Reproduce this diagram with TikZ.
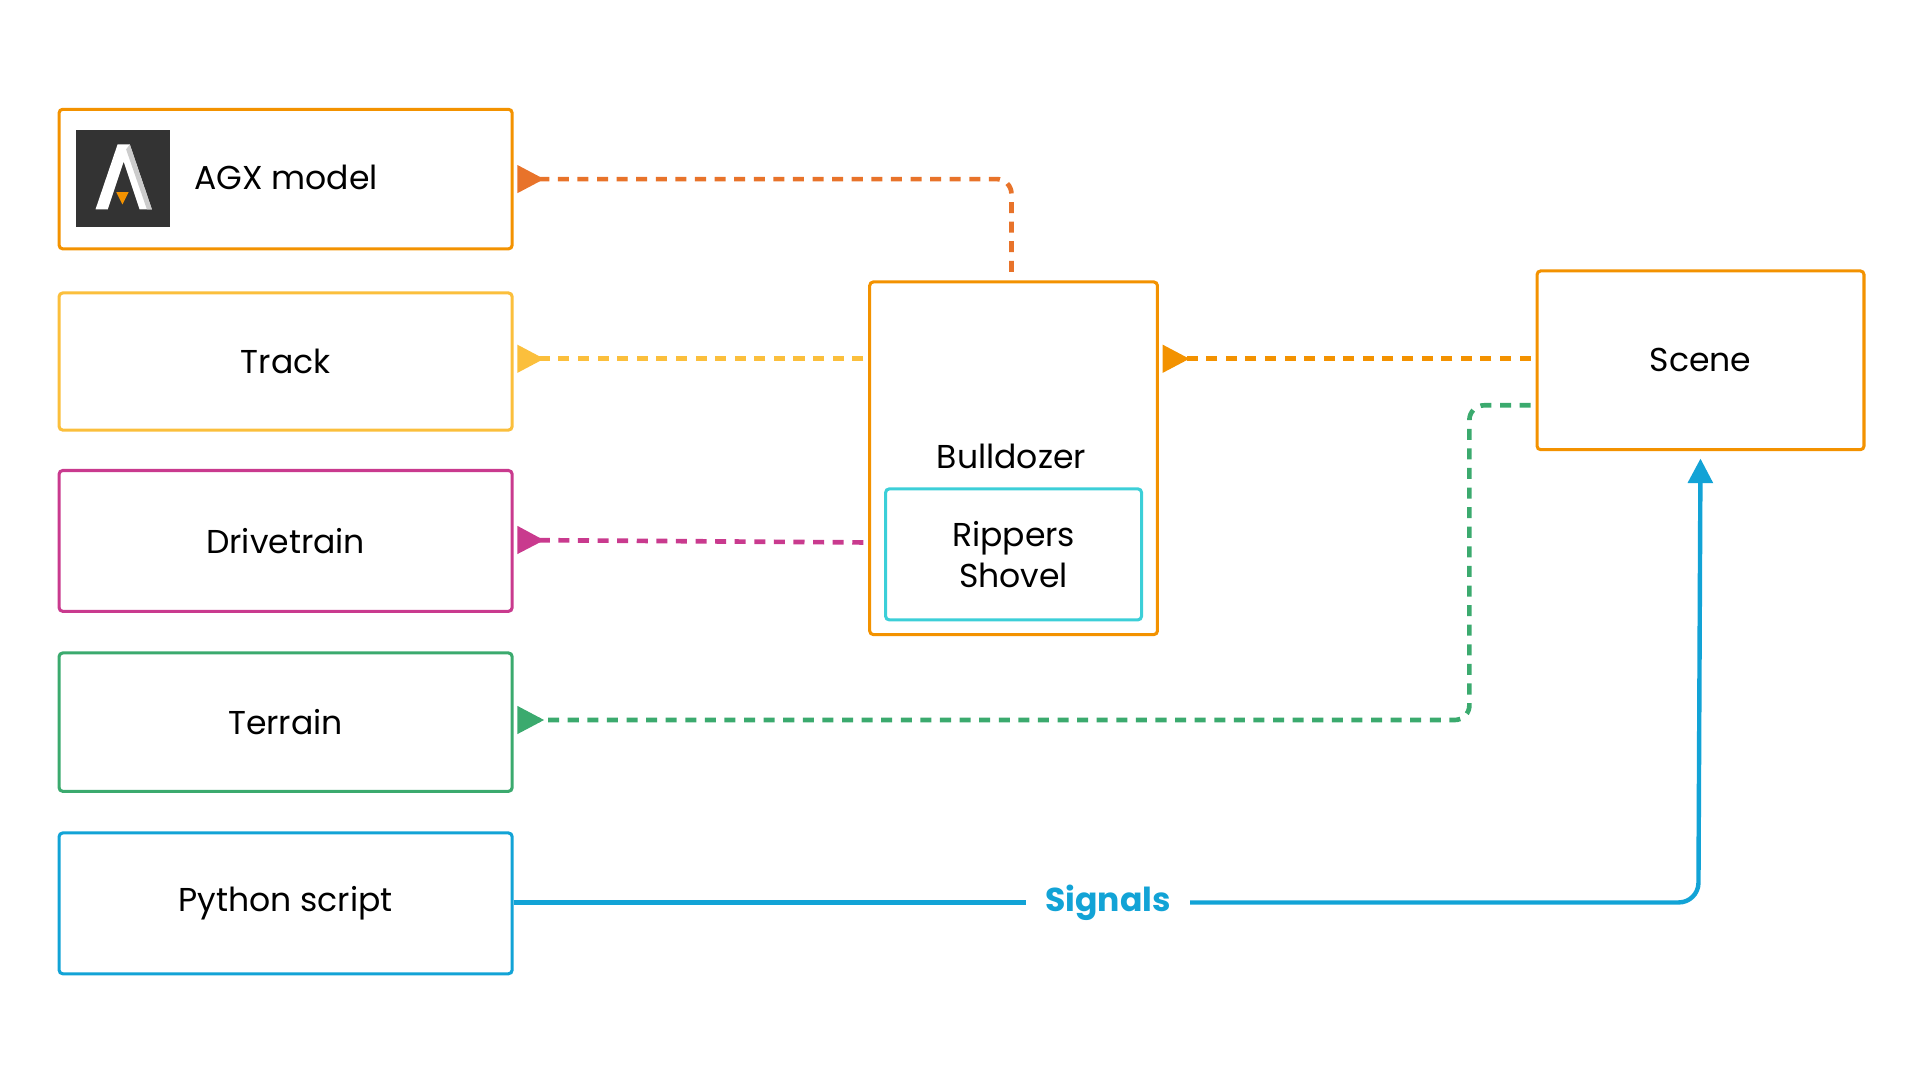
\documentclass[tikz,border=0pt]{standalone}
\usepackage{fontspec}
\setmainfont{Poppins}
\usetikzlibrary{arrows.meta}
\definecolor{org}{HTML}{F39200}
\definecolor{org2}{HTML}{E8732A}
\definecolor{yel}{HTML}{FBBF3C}
\definecolor{mag}{HTML}{C93A8E}
\definecolor{grn}{HTML}{3BAA6E}
\definecolor{blu}{HTML}{12A3D6}
\definecolor{cya}{HTML}{3CCFD8}
\begin{document}
\begin{tikzpicture}[x=1pt,y=-1pt,
 box/.style={draw,line width=2.5pt,rounded corners=3pt,minimum width=370pt,minimum height=114pt,font=\fontsize{27}{32}\selectfont,anchor=north west,inner sep=0pt},
 con/.style={line width=3.8pt,dash pattern=on 9pt off 7pt,rounded corners=12pt,-{Triangle[reversed,length=22pt,width=22pt,sep=3pt]}},
 lab/.style={font=\fontsize{27}{32}\selectfont}]
\path[use as bounding box] (0,0) rectangle (1568,882);
\node[box,draw=org] (agx) at (47,88) {};
\node[anchor=west,lab] (agxt) at (155,145) {AGX model};
\node[fill={rgb,255:red,51;green,51;blue,51},minimum width=77pt,minimum height=79pt,anchor=north west,inner sep=0pt] (logo) at (62,106) {};
\fill[white] (78,171)--(96,118)--(106,118)--(124,171)--(114,171)--(101,132)--(88,171)--cycle;
\fill[gray!40] (106,118)--(124,171)--(120,171)--(103,122)--cycle;
\fill[org] (95,157)--(105,157)--(100,167)--cycle;
\node[box,draw=yel,minimum height=112pt] (track) at (47,238) {Track};
\node[box,draw=mag,minimum height=115pt] (drive) at (47,383) {Drivetrain};
\node[box,draw=grn,minimum height=113pt] (terr) at (47,532) {Terrain};
\node[box,draw=blu,minimum height=115pt] (py) at (47,679) {Python script};
\node[draw=org,line width=2.5pt,rounded corners=3pt,minimum width=235pt,minimum height=288pt,anchor=north west,inner sep=0pt] (bull) at (709,229) {};
\node[lab] (bullt) at (826,373) {Bulldozer};
\node[draw=cya,line width=2.5pt,rounded corners=3pt,minimum width=209pt,minimum height=107pt,anchor=north west,inner sep=0pt] (rip) at (722,398) {};
\node[lab,align=center] at (rip.center) {Rippers\\[1pt]Shovel};
\node[draw=org,line width=2.5pt,rounded corners=3pt,minimum width=267pt,minimum height=146pt,anchor=north west,inner sep=0pt,lab] (scene) at (1254,220) {Scene};
\coordinate (a1) at (826,222);
\coordinate (t1) at (705,293);
\coordinate (d1) at (705,443);
\coordinate (s1) at (1250,293);
\coordinate (g1) at (1250,331);
\draw[con,draw=org2,-{Triangle[reversed,length=22pt,width=22pt,sep=3pt,fill=org2]}] (a1) |- (agx.east);
\draw[con,draw=yel] (t1) -- (t1-|track.east);
\draw[con,draw=org] (s1) -- (s1-|bull.east);
\draw[con,draw=mag] (d1) -- (drive.east|-0,441);
\draw[con,draw=grn] (g1) -- (1200,331) -- (1200,588) -- (terr.east|-0,588);
\node[lab,text=blu,font=\fontsize{27}{32}\selectfont\bfseries] (sig) at (905,737) {Signals};
\draw[line width=3.6pt,blu] (py.east|-0,737) -- (838,737);
\draw[line width=3.6pt,blu,rounded corners=16pt,-{Triangle[length=20pt,width=20pt,sep=6pt]}] (972,737) -- (1387,737) -- (scene.south);
\end{tikzpicture}
\end{document}
